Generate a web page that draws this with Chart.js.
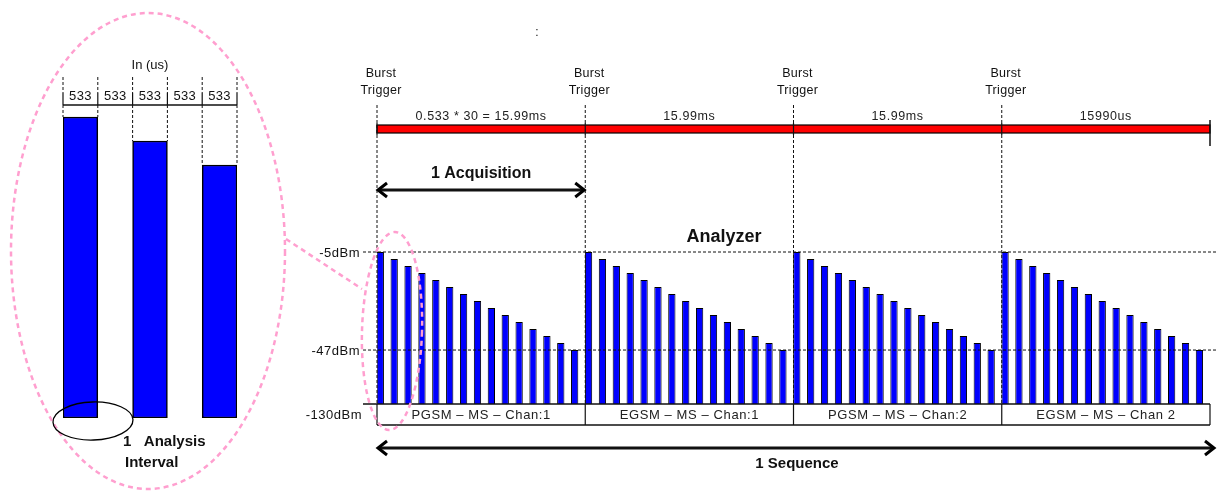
<!DOCTYPE html>
<html>
<head>
<meta charset="utf-8">
<script src="https://cdn.jsdelivr.net/npm/chart.js@4"></script>
<style>
  body { margin: 0; background: #fff; }
  #page { position: relative; width: 1217px; height: 492px; overflow: hidden; }
  .box { position: absolute; top: 0; height: 492px; }
</style>
</head>
<body>
<div id="page">
  <div class="box" style="left:0;width:1217px"><canvas id="sequenceChart"></canvas></div>
  <div class="box" style="left:0;width:300px"><canvas id="intervalChart"></canvas></div>
</div>
<script>
// burst levels (dBm) for each band / channel, 15 bursts per acquisition
const groupNames = ['PGSM – MS – Chan:1', 'EGSM – MS – Chan:1', 'PGSM – MS – Chan:2', 'EGSM – MS – Chan 2'];
const pgsmChan1 = [-5, -8, -11, -14, -17, -20, -23, -26, -29, -32, -35, -38, -41, -44, -47];
const egsmChan1 = [-5, -8, -11, -14, -17, -20, -23, -26, -29, -32, -35, -38, -41, -44, -47];
const pgsmChan2 = [-5, -8, -11, -14, -17, -20, -23, -26, -29, -32, -35, -38, -41, -44, -47];
const egsmChan2 = [-5, -8, -11, -14, -17, -20, -23, -26, -29, -32, -35, -38, -41, -44, -47];

const levelTicks = [-130, -47, -5];
const levelLabels = ['-130dBm', '-47dBm', '-5dBm'];
const periodLabels = ['0.533 * 30 = 15.99ms', '15.99ms', '15.99ms', '15990us'];

// zoomed view: analysis intervals (us) and the first three bursts
const intervalLabels = ['533', '533', '533', '533', '533'];
const intervalLevels = [-5, null, -8, null, -11];

const FONT = '"Liberation Sans", Arial, sans-serif';
const PINK = '#ff9fcf';
const INK = '#111';

function text(ctx, str, x, y, size, opts = {}) {
  ctx.save();
  ctx.font = (opts.bold ? 'bold ' : '') + size + 'px ' + FONT;
  ctx.fillStyle = opts.color || INK;
  ctx.textAlign = opts.align || 'center';
  ctx.textBaseline = 'middle';
  if (opts.spacing) ctx.letterSpacing = opts.spacing;
  ctx.fillText(str, x, y);
  ctx.restore();
}

function line(ctx, x1, y1, x2, y2, width = 1, dash = [], color = INK) {
  ctx.save();
  ctx.strokeStyle = color;
  ctx.lineWidth = width;
  ctx.setLineDash(dash);
  ctx.beginPath();
  ctx.moveTo(x1, y1);
  ctx.lineTo(x2, y2);
  ctx.stroke();
  ctx.restore();
}

function arrow(ctx, x1, x2, y) {
  line(ctx, x1 + 2, y, x2 - 2, y, 3);
  ctx.save();
  ctx.strokeStyle = '#000';
  ctx.lineWidth = 3;
  ctx.beginPath();
  ctx.moveTo(x1 + 10, y - 7); ctx.lineTo(x1 + 1, y); ctx.lineTo(x1 + 10, y + 7);
  ctx.moveTo(x2 - 10, y - 7); ctx.lineTo(x2 - 1, y); ctx.lineTo(x2 - 10, y + 7);
  ctx.stroke();
  ctx.restore();
}

function ellipse(ctx, cx, cy, rx, ry, rot, color, width, dash = []) {
  ctx.save();
  ctx.strokeStyle = color;
  ctx.lineWidth = width;
  ctx.setLineDash(dash);
  ctx.beginPath();
  ctx.ellipse(cx, cy, rx, ry, rot, 0, Math.PI * 2);
  ctx.stroke();
  ctx.restore();
}

// the level axis of the drawing is not to scale: piecewise linear between ticks
const levelFrac = [0, 0.355, 1];
function levelToDecimal(v) {
  const i = v < levelTicks[1] ? 0 : 1;
  const t = (v - levelTicks[i]) / (levelTicks[i + 1] - levelTicks[i]);
  return levelFrac[i] + t * (levelFrac[i + 1] - levelFrac[i]);
}
function decimalToLevel(d) {
  const i = d < levelFrac[1] ? 0 : 1;
  const t = (d - levelFrac[i]) / (levelFrac[i + 1] - levelFrac[i]);
  return levelTicks[i] + t * (levelTicks[i + 1] - levelTicks[i]);
}

class LevelScale extends Chart.LinearScale {
  getPixelForValue(value) {
    if (value === null || value === undefined) return NaN;
    return this.getPixelForDecimal(levelToDecimal(value));
  }
  getValueForPixel(pixel) {
    return decimalToLevel(this.getDecimalForPixel(pixel));
  }
}
LevelScale.id = 'level';
LevelScale.defaults = Chart.LinearScale.defaults;
Chart.register(LevelScale);

const burstLabels = groupNames.flatMap(g => pgsmChan1.map((_, i) => g + ' #' + (i + 1)));
const burstLevels = [...pgsmChan1, ...egsmChan1, ...pgsmChan2, ...egsmChan2];

const sequenceDecor = {
  id: 'sequenceDecor',
  afterDatasetsDraw(chart) {
    const { ctx, chartArea: a, scales: { x, y } } = chart;
    const per = pgsmChan1.length;
    const half = (x.getPixelForValue(1) - x.getPixelForValue(0)) / 2;
    const starts = groupNames.map((_, g) => x.getPixelForValue(g * per) - half);
    const edges = [...starts, a.right];
    const yBase = y.getPixelForValue(-130);
    const boxBottom = yBase + 21;

    // reference levels
    levelTicks.forEach((v, i) => {
      const py = y.getPixelForValue(v);
      if (v === -130) {
        line(ctx, a.left - 14, py, a.right, py, 1.5);
        text(ctx, levelLabels[i], a.left - 15, py + 11, 13, { align: 'right', spacing: '0.5px' });
      } else {
        line(ctx, a.left - 14, py, chart.width, py, 1, [3, 2]);
        text(ctx, levelLabels[i], a.left - 17, py + 1, 13, { align: 'right', spacing: '0.5px' });
      }
    });

    // band / channel label row
    line(ctx, a.left, boxBottom, a.right, boxBottom, 1.5);
    edges.forEach(e => line(ctx, e, yBase, e, boxBottom, 1.2));
    groupNames.forEach((g, i) => {
      text(ctx, g, (edges[i] + edges[i + 1]) / 2, yBase + 11, 13, { color: '#222', spacing: '0.6px' });
    });

    // burst triggers
    starts.forEach(s => {
      line(ctx, s, 105, s, yBase, 1, [3, 2]);
      text(ctx, 'Burst', s + 4, 74, 12.5, { spacing: '0.3px' });
      text(ctx, 'Trigger', s + 4, 91, 12.5, { spacing: '0.3px' });
    });

    // acquisition timeline
    ctx.save();
    ctx.fillStyle = '#ff0000';
    ctx.strokeStyle = '#000';
    ctx.lineWidth = 1.2;
    ctx.fillRect(a.left, 125, a.right - a.left, 8);
    ctx.strokeRect(a.left, 125, a.right - a.left, 8);
    ctx.restore();
    starts.forEach(s => line(ctx, s, 123, s, 135, 1.2));
    line(ctx, a.right, 120, a.right, 146, 1.5);
    periodLabels.forEach((p, i) => {
      text(ctx, p, (edges[i] + edges[i + 1]) / 2, 117, 12.5, { color: '#222', spacing: '0.6px' });
    });

    text(ctx, '1 Acquisition', (starts[0] + starts[1]) / 2, 174, 16, { bold: true });
    arrow(ctx, starts[0], starts[1], 190);

    text(ctx, 'Analyzer', 724, 237, 18, { bold: true });

    arrow(ctx, a.left, chart.width - 2, 448);
    text(ctx, '1 Sequence', (a.left + chart.width) / 2, 464, 15, { bold: true });

    text(ctx, ':', 537, 33, 12);

    // zoom call-out
    ellipse(ctx, 148, 251, 137, 238, 0, PINK, 2.5, [5, 4]);
    line(ctx, 286, 239, 362, 289, 2.5, [5, 4], PINK);
    ellipse(ctx, 392, 331, 30, 99, 0.03, PINK, 2.5, [5, 4]);
  }
};

new Chart(document.getElementById('sequenceChart'), {
  type: 'bar',
  data: {
    labels: burstLabels,
    datasets: [
      {
        label: 'Burst level (dBm)',
        data: burstLevels,
        base: -130,
        backgroundColor: '#0000ff',
        borderColor: '#000',
        borderWidth: 1,
        borderSkipped: 'start',
        barPercentage: 1,
        categoryPercentage: 1.05
      },
      { label: 'idle', data: [], barPercentage: 1, categoryPercentage: 1.05 }
    ]
  },
  options: {
    responsive: true,
    maintainAspectRatio: false,
    animation: false,
    layout: { padding: { left: 377, right: 7, top: 252, bottom: 88 } },
    plugins: { legend: { display: false }, tooltip: { enabled: false } },
    scales: {
      x: { display: false },
      y: { type: 'level', min: -130, max: -5, display: false }
    }
  },
  plugins: [sequenceDecor]
});

const intervalDecor = {
  id: 'intervalDecor',
  afterDatasetsDraw(chart) {
    const { ctx, chartArea: a, scales: { x, y } } = chart;
    const half = (x.getPixelForValue(1) - x.getPixelForValue(0)) / 2;

    text(ctx, 'In (us)', (a.left + a.right) / 2, 65, 13);
    line(ctx, a.left, a.top, a.right, a.top, 1.5);
    for (let k = 0; k <= intervalLabels.length; k++) {
      const bx = x.getPixelForValue(0) - half + k * 2 * half;
      line(ctx, bx, 77, bx, 93, 1, [3, 2]);
      line(ctx, bx, 93, bx, a.top, 1.2);
    }
    intervalLabels.forEach((l, i) => text(ctx, l, x.getPixelForValue(i), 96, 13, { spacing: '0.3px' }));

    intervalLevels.forEach((v, i) => {
      if (v === null) return;
      const top = y.getPixelForValue(v);
      const cx = x.getPixelForValue(i);
      line(ctx, cx - half, a.top, cx - half, top, 1, [3, 2]);
      line(ctx, cx + half, a.top, cx + half, top, 1, [3, 2]);
    });

    ellipse(ctx, 93, 421, 40, 19, -0.03, '#000', 1.3);
    text(ctx, '1   Analysis', 123, 442, 15, { bold: true, align: 'left' });
    text(ctx, 'Interval', 125, 463, 15, { bold: true, align: 'left' });
  }
};

new Chart(document.getElementById('intervalChart'), {
  type: 'bar',
  data: {
    labels: intervalLabels,
    datasets: [{
      label: 'Burst level (dBm)',
      data: intervalLevels,
      base: -42.6,
      backgroundColor: '#0000ff',
      borderColor: '#000',
      borderWidth: 1.5,
      borderSkipped: false,
      barPercentage: 1,
      categoryPercentage: 1
    }]
  },
  options: {
    responsive: true,
    maintainAspectRatio: false,
    animation: false,
    layout: { padding: { left: 63, right: 63, top: 105, bottom: 74 } },
    plugins: { legend: { display: false }, tooltip: { enabled: false } },
    scales: {
      x: { display: false },
      y: { min: -42.6, max: -3.5, display: false }
    }
  },
  plugins: [intervalDecor]
});
</script>
</body>
</html>
